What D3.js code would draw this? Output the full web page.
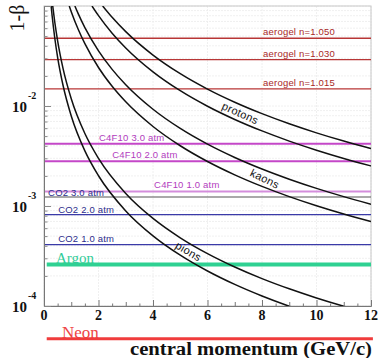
<!DOCTYPE html>
<html><head><meta charset="utf-8">
<script src="https://cdn.jsdelivr.net/npm/d3@7"></script>
<style>html,body{margin:0;padding:0;background:#fff;} svg{display:block;}</style>
</head><body>
<svg id="c" width="383" height="358"></svg>
<script>
// ---------- data ----------
const xTickLabels = [0, 2, 4, 6, 8, 10, 12];
const yDecades = [1e-4, 1e-3, 1e-2];
const yDecadeExp = ["-4", "-3", "-2"];

// 1-beta vs central momentum, each particle drawn for p(1+10%) and p(1-10%)
const pionLo = [[0.262,0.1],[0.3,0.079],[0.4,0.0468],[0.5,0.0307],[0.7,0.01604],[1,0.007955],[1.5,0.00356],[2,0.002007],[3,0.0008935],[4,0.0005029],[5,0.0003221],[6,0.0002237],[7,0.0001643],[8,0.0001258],[9,0.0000994],[10,0.0000805]];
const pionHi = [[0.32,0.1],[0.4,0.0676],[0.5,0.0449],[0.7,0.02368],[1,0.011815],[1.5,0.005303],[2,0.002993],[3,0.0013337],[4,0.0007509],[5,0.0004808],[6,0.0003341],[7,0.0002455],[8,0.0001879],[9,0.0001485],[10,0.0001203],[11,0.0000994],[12,0.0000835]];
const kaonLo = [[0.927,0.1],[1,0.0877],[1.25,0.0588],[1.5,0.042],[2,0.02426],[2.5,0.01573],[3,0.011006],[4,0.006236],[5,0.004004],[6,0.002786],[7,0.002049],[8,0.00157],[9,0.001241],[10,0.0010056],[11,0.0008313],[12,0.0006987]];
const kaonHi = [[1.133,0.1],[1.25,0.0843],[1.5,0.0608],[2,0.0356],[2.5,0.02324],[3,0.01631],[4,0.009274],[5,0.005965],[6,0.004154],[7,0.003057],[8,0.002343],[9,0.001853],[10,0.001501],[11,0.001241],[12,0.001043]];
const protonLo = [[1.761,0.1],[2,0.0801],[2.5,0.0535],[3,0.0381],[4,0.02198],[5,0.01423],[6,0.009948],[7,0.007338],[8,0.005633],[9,0.004458],[10,0.003616],[11,0.002991],[12,0.002515]];
const protonHi = [[2.152,0.1],[2.5,0.077],[3,0.0554],[4,0.0323],[5,0.02104],[6,0.01475],[7,0.010903],[8,0.00838],[9,0.006638],[10,0.005387],[11,0.004458],[12,0.00375]];
const particleNames = ["pions", "kaons", "protons"];

// radiator thresholds (1 - 1/n)
const radiatorNames = ["aerogel n=1.050","aerogel n=1.030","aerogel n=1.015","C4F10 3.0 atm","C4F10 2.0 atm","C4F10 1.0 atm","CO2 3.0 atm","CO2 2.0 atm","CO2 1.0 atm"];
const radiatorThresholds = [0.0476,0.0291,0.0148,0.0042,0.0028,0.0014,0.00123,0.00082,0.00041];
const gasNames = ["Argon", "Neon"];
const gasThresholds = [0.00026, 0.000047];

// ---------- layout / style ----------
const svg = d3.select("#c");
const L = 44, R = 371, T = 6, B = 306;
const x = d3.scaleLinear().domain([0, 12]).range([L, R]);
const y = d3.scaleLog().domain([1e-4, 1e-1]).range([B, T]);

svg.append("defs").append("clipPath").attr("id","clip")
  .append("rect").attr("x",L).attr("y",T).attr("width",R-L).attr("height",B-T);

// grid
const minorY = [];
[1e-4,1e-3,1e-2].forEach(d => { for (let k=1;k<10;k++) minorY.push(d*k); });
minorY.push(1e-1);
svg.append("g").selectAll("line").data(minorY).join("line")
  .attr("x1",L).attr("x2",R).attr("y1",d=>y(d)).attr("y2",d=>y(d))
  .attr("stroke","#ececec").attr("stroke-width",0.8).attr("stroke-dasharray","2,1");
svg.append("g").selectAll("line").data(xTickLabels).join("line")
  .attr("x1",d=>x(d)).attr("x2",d=>x(d)).attr("y1",T).attr("y2",B)
  .attr("stroke","#ececec").attr("stroke-width",0.8).attr("stroke-dasharray","2,1");

// frame
svg.append("rect").attr("x",L).attr("y",T).attr("width",R-L).attr("height",B-T)
  .attr("fill","none").attr("stroke","#c8c8c8").attr("stroke-width",1);

// radiator lines
const radStyle = [
  {c:"#b83636", lc:"#a82828", w:1.3, px:8.04, dy:-3},
  {c:"#b83636", lc:"#a82828", w:1.3, px:8.04, dy:-3},
  {c:"#b83636", lc:"#a82828", w:1.3, px:8.04, dy:-3},
  {c:"#c447c8", lc:"#b23cbe", w:2, px:2.02, dy:-3},
  {c:"#c447c8", lc:"#b23cbe", w:2, px:2.5, dy:-3},
  {c:"#d48ddc", lc:"#b23cbe", w:2, px:4.04, dy:-3},
  {c:"#555555", lc:"#2c2c8c", w:1.2, px:0.15, dy:-1.5},
  {c:"#3a3aa8", lc:"#2c2c8c", w:1.2, px:0.52, dy:-2},
  {c:"#3a3aa8", lc:"#2c2c8c", w:1.2, px:0.52, dy:-2.5}
];
const rg = svg.append("g");
rg.selectAll("line").data(radiatorThresholds).join("line")
  .attr("x1",x(0)).attr("x2",x(12)).attr("y1",d=>y(d)).attr("y2",d=>y(d))
  .attr("stroke",(d,i)=>radStyle[i].c).attr("stroke-width",(d,i)=>radStyle[i].w);
rg.selectAll("text").data(radiatorNames).join("text")
  .attr("x",(d,i)=>x(radStyle[i].px)).attr("y",(d,i)=>y(radiatorThresholds[i])+radStyle[i].dy)
  .attr("fill",(d,i)=>radStyle[i].lc)
  .attr("font-family","Liberation Sans, Arial, sans-serif").attr("font-size",9.5)
  .attr("letter-spacing",0.2)
  .text(d=>d);

// gas lines
svg.append("line").attr("x1",x(0.1)).attr("x2",x(12)).attr("y1",y(gasThresholds[0])).attr("y2",y(gasThresholds[0]))
  .attr("stroke","#2fd192").attr("stroke-width",4);
svg.append("text").attr("x",56).attr("y",y(gasThresholds[0])-1.5).attr("fill","#33cc99")
  .attr("font-family","Liberation Serif, Times New Roman, serif").attr("font-size",15).text(gasNames[0]);

// particle curves
const line = d3.line().x(d=>x(d[0])).y(d=>y(d[1])).curve(d3.curveMonotoneX);
const cg = svg.append("g").attr("clip-path","url(#clip)");
cg.selectAll("path").data([pionLo,pionHi,kaonLo,kaonHi,protonLo,protonHi]).join("path")
  .attr("d",line).attr("fill","none").attr("stroke","#111").attr("stroke-width",1.5);

// particle labels between the pair of curves
function interp(arr, p) {
  for (let i=0;i<arr.length-1;i++) {
    if (p>=arr[i][0] && p<=arr[i+1][0]) {
      const t=(p-arr[i][0])/(arr[i+1][0]-arr[i][0]);
      return y(arr[i][1]) + t*(y(arr[i+1][1])-y(arr[i][1]));
    }
  }
  return y(arr[arr.length-1][1]);
}
const pairs = [[pionLo,pionHi],[kaonLo,kaonHi],[protonLo,protonHi]];
const labelP = [5.3, 8.1, 7.2];
const labelRot = [31, 26, 24];
svg.append("g").selectAll("text").data(particleNames).join("text")
  .attr("transform",(d,i)=>{
    const px = x(labelP[i]);
    const py = (interp(pairs[i][0],labelP[i]) + interp(pairs[i][1],labelP[i]))/2;
    return `translate(${px},${py}) rotate(${labelRot[i]})`;
  })
  .attr("text-anchor","middle").attr("dy","0.35em")
  .attr("font-family","Liberation Sans, Arial, sans-serif").attr("font-size",11)
  .attr("letter-spacing",0.3).attr("fill","#111")
  .text(d=>d);

// axes
const xAxis = d3.axisBottom(x).tickValues(d3.range(0,12.01,0.5)).tickSize(-3).tickFormat("");
const xa = svg.append("g").attr("transform",`translate(0,${B})`).call(xAxis);
xa.select(".domain").attr("stroke","#777");
xa.selectAll(".tick line").attr("stroke","#777")
  .attr("y2",d=> Number.isInteger(d/2) ? -6 : (Number.isInteger(d) ? -4 : -2.5));
svg.append("g").selectAll("text").data(xTickLabels).join("text")
  .attr("x",d=>x(d)).attr("y",320).attr("text-anchor","middle")
  .attr("font-family","Liberation Serif, Times New Roman, serif").attr("font-weight","bold")
  .attr("font-size",14).attr("fill","#111").text(d=>d);

const yAxis = d3.axisLeft(y).tickValues(minorY).tickSize(-3).tickFormat("");
const ya = svg.append("g").attr("transform",`translate(${L},0)`).call(yAxis);
ya.select(".domain").attr("stroke","#777");
ya.selectAll(".tick line").attr("stroke","#888")
  .attr("x2",d=> [1e-4,1e-3,1e-2,1e-1].some(v=>Math.abs(v-d)/v<1e-6) ? 7 : 3.5);

const yl = svg.append("g").selectAll("g").data(yDecades).join("g");
yl.append("text").attr("x",27).attr("y",d=>y(d)+6).attr("text-anchor","end")
  .attr("font-family","Liberation Serif, Times New Roman, serif").attr("font-weight","bold")
  .attr("font-size",15).attr("fill","#111").text("10");
yl.append("text").attr("x",28).attr("y",d=>y(d)-7)
  .attr("font-family","Liberation Serif, Times New Roman, serif").attr("font-weight","bold")
  .attr("font-size",10).attr("fill","#111").text((d,i)=>yDecadeExp[i]);

// titles
svg.append("text").attr("transform","translate(24,18) rotate(-90)").attr("text-anchor","middle")
  .attr("font-family","Liberation Serif, Times New Roman, serif").attr("font-size",20).attr("fill","#111")
  .text("1-β");
svg.append("text").attr("x",62).attr("y",y(gasThresholds[1])-1).attr("fill","#ee4444")
  .attr("font-family","Liberation Serif, Times New Roman, serif").attr("font-size",17).text(gasNames[1]);
svg.append("text").attr("x",130).attr("y",355)
  .attr("font-family","Liberation Serif, Times New Roman, serif").attr("font-weight","bold")
  .attr("font-size",18).attr("fill","#111").attr("textLength",242).attr("lengthAdjust","spacingAndGlyphs")
  .text("central momentum (GeV/c)");
// neon line overlaps title top
svg.append("line").attr("x1",x(0.1)).attr("x2",x(12.07)).attr("y1",y(gasThresholds[1])).attr("y2",y(gasThresholds[1]))
  .attr("stroke","#f03c3c").attr("stroke-width",3);
</script>
</body></html>
